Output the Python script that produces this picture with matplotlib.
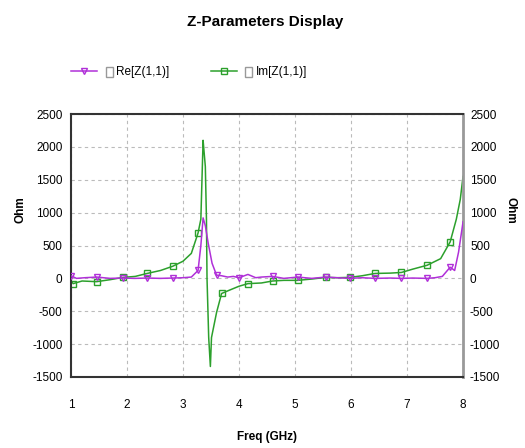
import matplotlib.pyplot as plt
from matplotlib.patches import Rectangle

# Z-parameter sweep, values
freq_re = [1.0, 1.1, 1.25, 1.46, 1.7, 1.93, 2.15, 2.36, 2.6, 2.82, 3.0, 3.15, 3.27, 3.32, 3.36,
           3.4, 3.45, 3.52, 3.6, 3.69, 3.8, 3.9, 4.0, 4.16, 4.3, 4.4, 4.6, 4.8, 5.05, 5.3,
           5.55, 5.75, 5.98, 6.2, 6.43, 6.7, 6.9, 7.1, 7.36, 7.5, 7.63, 7.77, 7.85, 7.92, 8.0]
re_z = [40, 0, 10, 20, 0, 5, 0, 5, 0, 5, 10, 20, 120, 500, 920,
        800, 540, 230, 50, 40, 20, 30, 10, 60, 10, 20, 30, 0, 20, 0,
        20, 10, 0, 10, 0, 5, 0, 5, 0, 10, 30, 170, 120, 400, 860]

freq_im = [1.0, 1.04, 1.2, 1.46, 1.7, 1.93, 2.15, 2.36, 2.6, 2.82, 3.0, 3.15, 3.27, 3.32, 3.34,
           3.36, 3.38, 3.4, 3.42, 3.43, 3.46, 3.49, 3.51, 3.6, 3.69, 3.8, 3.9, 4.0, 4.16, 4.4,
           4.6, 4.8, 5.05, 5.3, 5.55, 5.75, 5.98, 6.2, 6.43, 6.7, 6.9, 7.1, 7.36, 7.6, 7.77,
           7.88, 7.95, 8.0]
im_z = [-30, -80, -40, -50, -20, 15, 30, 75, 120, 185, 260, 380, 690, 900, 1500,
        2100, 1900, 1700, 900, 0, -900, -1340, -900, -520, -230, -190, -155, -120, -80, -70,
        -40, -30, -30, -10, 15, 10, 15, 40, 75, 80, 90, 140, 200, 300, 555,
        900, 1200, 1550]

re_marks = [0, 3, 5, 7, 9, 12, 18, 22, 26, 28, 30, 32, 34, 36, 38, 41]
im_marks = [1, 3, 5, 7, 9, 12, 24, 28, 30, 32, 34, 36, 38, 40, 42, 44]

yticks = [-1500, -1000, -500, 0, 500, 1000, 1500, 2000, 2500]
xticks = [1, 2, 3, 4, 5, 6, 7, 8]

purple = "#b030d8"
green = "#2ca02c"

plt.rcParams['font.family'] = ['Liberation Sans', 'DejaVu Sans']
plt.rcParams['axes.unicode_minus'] = False

fig = plt.figure(figsize=(5.25, 4.48), dpi=100)
ax = fig.add_axes([0.135, 0.1585, 0.747, 0.587])

ax.plot(freq_re, re_z, color=purple, lw=1.1, marker="v", ms=4, mfc="none",
        markevery=re_marks, label="Re[Z(1,1)]", zorder=3)
ax.plot(freq_im, im_z, color=green, lw=1.1, marker="s", ms=4, mfc="none",
        markevery=im_marks, label="Im[Z(1,1)]", zorder=2)

ax.set_xlim(1, 8)
ax.set_ylim(-1500, 2500)
ax.set_xticks(xticks)
ax.set_yticks(yticks)
ax.grid(True, color="#bbbbbb", linestyle=(0, (3, 3)), lw=0.8)
ax.tick_params(axis="y", length=0, labelsize=8.5, pad=6)
ax.tick_params(axis="x", length=0, labelsize=8.5, pad=16)

for s in ["top", "bottom", "left"]:
    ax.spines[s].set_color("#333333")
    ax.spines[s].set_linewidth(1.5)
ax.spines["right"].set_color("#999999")
ax.spines["right"].set_linewidth(2)

ax2 = ax.twinx()
ax2.set_ylim(-1500, 2500)
ax2.set_yticks(yticks)
ax2.tick_params(length=0, labelsize=8.5, pad=5)
for s in ax2.spines.values():
    s.set_visible(False)

fig.text(20 / 525, 0.531, "Ohm", rotation=90, ha="center", va="center",
         fontsize=8.5, fontweight="bold")
fig.text(510 / 525, 0.531, "Ohm", rotation=270, ha="center", va="center",
         fontsize=8.5, fontweight="bold")
ax.set_xlabel("Freq (GHz)", fontsize=8.5, fontweight="bold", labelpad=14)

fig.text(0.505, 0.951, "Z-Parameters Display", ha="center", va="center",
         fontsize=11, fontweight="bold")

leg = fig.legend(loc="center", bbox_to_anchor=(0.36, 0.839), ncol=2, frameon=False,
                 fontsize=8.5, handlelength=2.2, columnspacing=3.5, handletextpad=1.6)

# little check boxes next to each legend entry
fig.canvas.draw()
for t in leg.get_texts():
    bb = t.get_window_extent()
    fig.patches.append(Rectangle((bb.x0 - 10, bb.y0 + 1), 7, bb.height - 2,
                                 transform=None, fill=False, edgecolor="#999999", lw=1))

fig.savefig("out.png", dpi=100)
